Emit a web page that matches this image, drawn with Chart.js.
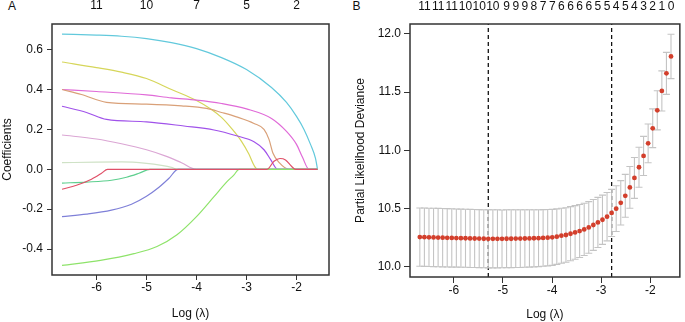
<!DOCTYPE html>
<html>
<head>
<meta charset="utf-8">
<script src="https://cdn.jsdelivr.net/npm/chart.js@4.4.1/dist/chart.umd.min.js"></script>
<style>
  body { margin: 0; background: #fff; width: 685px; height: 322px; position: relative; overflow: hidden; font-family: "Liberation Sans", Arial, sans-serif; }
  canvas { position: absolute; top: 0; }
  #chartA { left: 0; }
  #chartB { left: 342px; }
  .tag { position: absolute; top: -1.5px; font-size: 12px; line-height: 14px; color: #111; }
</style>
</head>
<body>
<div class="tag" style="left:8px">A</div>
<div class="tag" style="left:352.5px">B</div>
<canvas id="chartA" width="342" height="322"></canvas>
<canvas id="chartB" width="343" height="322"></canvas>
<script>
Chart.defaults.font.family = '"Liberation Sans", Arial, sans-serif';
Chart.defaults.font.size = 12;
Chart.defaults.color = '#111';
Chart.defaults.animation = false;

// ---- panel A: lasso coefficient paths [log(lambda), coefficient] ----
const xTicksA = [-6, -5, -4, -3, -2];
const yTicksA = [-0.4, -0.2, 0.0, 0.2, 0.4, 0.6];
const dfLabelsA = ['11', '10', '7', '5', '2'];

const coefCyan = [[-6.69,0.678],[-6,0.673],[-5.5,0.667],[-5,0.655],[-4.5,0.635],[-4,0.605],[-3.5,0.56],[-3,0.5],[-2.5,0.41],[-2.2,0.335],[-2,0.265],[-1.85,0.2],[-1.72,0.125],[-1.62,0.055],[-1.58,0]];
const coefYellow = [[-6.69,0.538],[-6,0.51],[-5.5,0.487],[-5,0.455],[-4.5,0.4],[-4,0.345],[-3.7,0.3],[-3.5,0.26],[-3.3,0.205],[-3.1,0.14],[-2.95,0.075],[-2.85,0.02],[-2.78,0],[-1.58,0]];
const coefMagenta = [[-6.69,0.4],[-6,0.39],[-5,0.373],[-4.5,0.358],[-4,0.347],[-3.5,0.33],[-3,0.303],[-2.5,0.255],[-2.2,0.19],[-2,0.125],[-1.88,0.06],[-1.75,0],[-1.58,0]];
const coefOrange = [[-6.69,0.4],[-6.3,0.375],[-5.8,0.336],[-5,0.327],[-4.3,0.318],[-3.8,0.305],[-3.5,0.285],[-3.2,0.263],[-2.85,0.23],[-2.65,0.2],[-2.55,0.15],[-2.47,0.08],[-2.35,0.035],[-2.15,0],[-1.58,0]];
const coefPurple = [[-6.69,0.316],[-6.2,0.285],[-5.8,0.25],[-5,0.238],[-4.25,0.217],[-3.65,0.197],[-3.2,0.168],[-2.85,0.138],[-2.65,0.098],[-2.52,0.05],[-2.38,0],[-1.58,0]];
const coefPink = [[-6.69,0.172],[-6,0.152],[-5.5,0.128],[-5,0.098],[-4.6,0.065],[-4.3,0.033],[-4,0],[-1.58,0]];
const coefPaleGreen = [[-6.69,0.033],[-6,0.036],[-5.5,0.037],[-5,0.03],[-4.7,0.02],[-4.5,0.01],[-4.38,0],[-1.58,0]];
const coefTeal = [[-6.69,-0.069],[-6.2,-0.064],[-5.7,-0.055],[-5.4,-0.04],[-5.15,-0.02],[-4.93,0],[-1.58,0]];
const coefBlue = [[-6.69,-0.237],[-6.2,-0.225],[-5.7,-0.205],[-5.3,-0.175],[-5,-0.135],[-4.75,-0.09],[-4.55,-0.045],[-4.37,0],[-1.58,0]];
const coefGreen = [[-6.69,-0.482],[-5.92,-0.457],[-5.25,-0.423],[-4.79,-0.387],[-4.39,-0.328],[-4,-0.237],[-3.65,-0.137],[-3.39,-0.062],[-3.25,-0.028],[-3.15,0],[-1.58,0]];
const coefRed = [[-6.69,-0.1],[-6.4,-0.08],[-6.1,-0.05],[-5.9,-0.02],[-5.78,0],[-2.59,0],[-2.45,0.04],[-2.33,0.054],[-2.22,0.047],[-2.1,0.015],[-2.02,0],[-1.58,0]];

// ---- panel B: cross-validation curve ----
const logLambda = [-6.690,-6.597,-6.504,-6.411,-6.318,-6.226,-6.133,-6.040,-5.947,-5.854,-5.761,-5.668,-5.575,-5.482,-5.389,-5.297,-5.204,-5.111,-5.018,-4.925,-4.832,-4.739,-4.646,-4.553,-4.460,-4.368,-4.275,-4.182,-4.089,-3.996,-3.903,-3.810,-3.717,-3.624,-3.531,-3.439,-3.346,-3.253,-3.160,-3.067,-2.974,-2.881,-2.788,-2.695,-2.602,-2.510,-2.417,-2.324,-2.231,-2.138,-2.045,-1.952,-1.859,-1.766,-1.673,-1.580];
const cvm = [10.256,10.255,10.254,10.253,10.252,10.251,10.250,10.249,10.248,10.247,10.246,10.245,10.244,10.243,10.242,10.241,10.241,10.241,10.241,10.242,10.242,10.243,10.243,10.244,10.245,10.246,10.247,10.249,10.251,10.254,10.260,10.268,10.274,10.285,10.296,10.308,10.322,10.339,10.360,10.382,10.405,10.431,10.463,10.500,10.550,10.610,10.682,10.763,10.855,10.952,11.060,11.189,11.343,11.509,11.660,11.805];
const cvsd = [0.250,0.250,0.250,0.250,0.250,0.250,0.250,0.250,0.249,0.249,0.249,0.249,0.249,0.249,0.249,0.249,0.249,0.249,0.248,0.248,0.248,0.247,0.247,0.246,0.246,0.245,0.244,0.243,0.242,0.240,0.238,0.236,0.234,0.232,0.230,0.227,0.224,0.221,0.218,0.215,0.211,0.207,0.202,0.196,0.190,0.184,0.179,0.175,0.171,0.168,0.166,0.166,0.168,0.172,0.180,0.190];
const cutLines = [-5.297, -2.788]; // lambda.min, lambda.1se
const xTicksB = [-6, -5, -4, -3, -2];
const yTicksB = [10.0, 10.5, 11.0, 11.5, 12.0];
const dfTicksB = [-6.597,-6.318,-6.040,-5.761,-5.482,-5.204,-4.925,-4.739,-4.553,-4.368,-4.182,-3.996,-3.810,-3.624,-3.439,-3.253,-3.067,-2.881,-2.695,-2.510,-2.324,-2.138,-1.952,-1.766,-1.580];
const dfLabelsB = ['11','11','11','10','10','10','9','9','9','8','7','7','6','6','6','6','5','5','4','5','4','3','2','1','0'];

const boxPlugin = {
  id: 'box',
  afterDraw(chart) {
    const { ctx, chartArea: a } = chart;
    ctx.save();
    ctx.strokeStyle = '#333';
    ctx.lineWidth = 1.5;
    ctx.strokeRect(a.left, a.top, a.right - a.left, a.bottom - a.top);
    ctx.restore();
  }
};

function tickGrid(len) {
  return { display: true, drawOnChartArea: false, drawTicks: true, tickLength: len, color: '#333', lineWidth: 1 };
}
const noGrid = { display: false, drawTicks: false, tickLength: 0 };

// chart A
const pathsA = [
  [coefCyan, '#62c9dc'],
  [coefYellow, '#d6d65a'],
  [coefMagenta, '#e06ad8'],
  [coefOrange, '#d9a078'],
  [coefPurple, '#a052ea'],
  [coefPink, '#dba6d4'],
  [coefPaleGreen, '#cfe2c6'],
  [coefTeal, '#5dcf8e'],
  [coefBlue, '#7f80d8'],
  [coefGreen, '#8ee36a'],
  [coefRed, '#e05068']
];
// later paths sit on top, like matplot
const dsA = pathsA.map(([pts, col]) => ({
  data: pts.map(p => ({ x: p[0], y: p[1] })),
  borderColor: col,
  borderWidth: 1.2,
  pointRadius: 0,
  cubicInterpolationMode: 'monotone',
  fill: false
})).reverse();

new Chart(document.getElementById('chartA'), {
  type: 'line',
  data: { datasets: dsA },
  options: {
    responsive: false,
    layout: { padding: { right: 13 } },
    plugins: { legend: { display: false }, tooltip: { enabled: false } },
    scales: {
      x: {
        type: 'linear', position: 'bottom', min: -6.89, max: -1.35,
        afterBuildTicks: s => { s.ticks = xTicksA.map(v => ({ value: v })); },
        afterFit: s => { s.height = 47; },
        grid: tickGrid(5), border: { display: false },
        ticks: { padding: 0, maxRotation: 0, autoSkip: false, callback: v => String(v) },
        title: { display: true, text: 'Log (λ)', padding: { top: 0, bottom: 1.5 } }
      },
      x2: {
        axis: 'x', type: 'linear', position: 'top', min: -6.89, max: -1.35,
        afterBuildTicks: s => { s.ticks = xTicksA.map(v => ({ value: v })); },
        afterFit: s => { s.height = 24; },
        grid: noGrid, border: { display: false },
        ticks: { padding: 11, maxRotation: 0, autoSkip: false, callback: (v, i) => dfLabelsA[i] }
      },
      y: {
        type: 'linear', position: 'left', min: -0.53, max: 0.7285,
        afterBuildTicks: s => { s.ticks = yTicksA.map(v => ({ value: v })); },
        afterFit: s => { s.width = 52; },
        grid: tickGrid(5), border: { display: false },
        ticks: { padding: 4, callback: v => v.toFixed(1) },
        title: { display: true, text: 'Coefficients', padding: { top: 0, bottom: 0 } }
      }
    }
  },
  plugins: [boxPlugin]
});

// chart B
const yMinB = 9.914, yMaxB = 12.083;
const barPts = [];
logLambda.forEach((x, i) => {
  barPts.push({ x, y: cvm[i] - cvsd[i] }, { x, y: cvm[i] + cvsd[i] }, { x, y: null });
});

const dsB = [
  {
    data: logLambda.map((x, i) => ({ x, y: cvm[i] })),
    showLine: false, pointRadius: 2.4, pointBackgroundColor: '#d33f2c', pointBorderWidth: 0
  },
  {
    data: barPts, borderColor: '#c4c4c4', borderWidth: 1.1, spanGaps: false,
    pointStyle: 'line', pointRadius: 3.5, pointBorderColor: '#c4c4c4', pointBorderWidth: 1.1
  }
];
cutLines.forEach(v => dsB.push({
  data: [{ x: v, y: yMinB }, { x: v, y: yMaxB }],
  borderColor: '#111', borderWidth: 1.3, borderDash: [4, 3], pointRadius: 0
}));

new Chart(document.getElementById('chartB'), {
  type: 'line',
  data: { datasets: dsB },
  options: {
    responsive: false,
    layout: { padding: { right: 2 } },
    plugins: { legend: { display: false }, tooltip: { enabled: false } },
    scales: {
      x: {
        type: 'linear', position: 'bottom', min: -6.89, max: -1.40,
        afterBuildTicks: s => { s.ticks = xTicksB.map(v => ({ value: v })); },
        afterFit: s => { s.height = 45; },
        grid: tickGrid(6), border: { display: false },
        ticks: { padding: 0, maxRotation: 0, autoSkip: false, callback: v => String(v) },
        title: { display: true, text: 'Log (λ)', padding: { top: 0, bottom: 0 } }
      },
      x2: {
        axis: 'x', type: 'linear', position: 'top', min: -6.89, max: -1.40,
        afterBuildTicks: s => { s.ticks = dfTicksB.map(v => ({ value: v })); },
        afterFit: s => { s.height = 24; },
        grid: noGrid, border: { display: false },
        ticks: { padding: 10.5, maxRotation: 0, autoSkip: false, callback: (v, i) => dfLabelsB[i] }
      },
      y: {
        type: 'linear', position: 'left', min: yMinB, max: yMaxB,
        afterBuildTicks: s => { s.ticks = yTicksB.map(v => ({ value: v })); },
        afterFit: s => { s.width = 68; },
        grid: tickGrid(6), border: { display: false },
        ticks: { padding: 3, callback: v => v.toFixed(1) },
        title: { display: true, text: 'Partial Likelihood Deviance', padding: { top: 11, bottom: 0 } }
      }
    }
  },
  plugins: [boxPlugin]
});
</script>
</body>
</html>
